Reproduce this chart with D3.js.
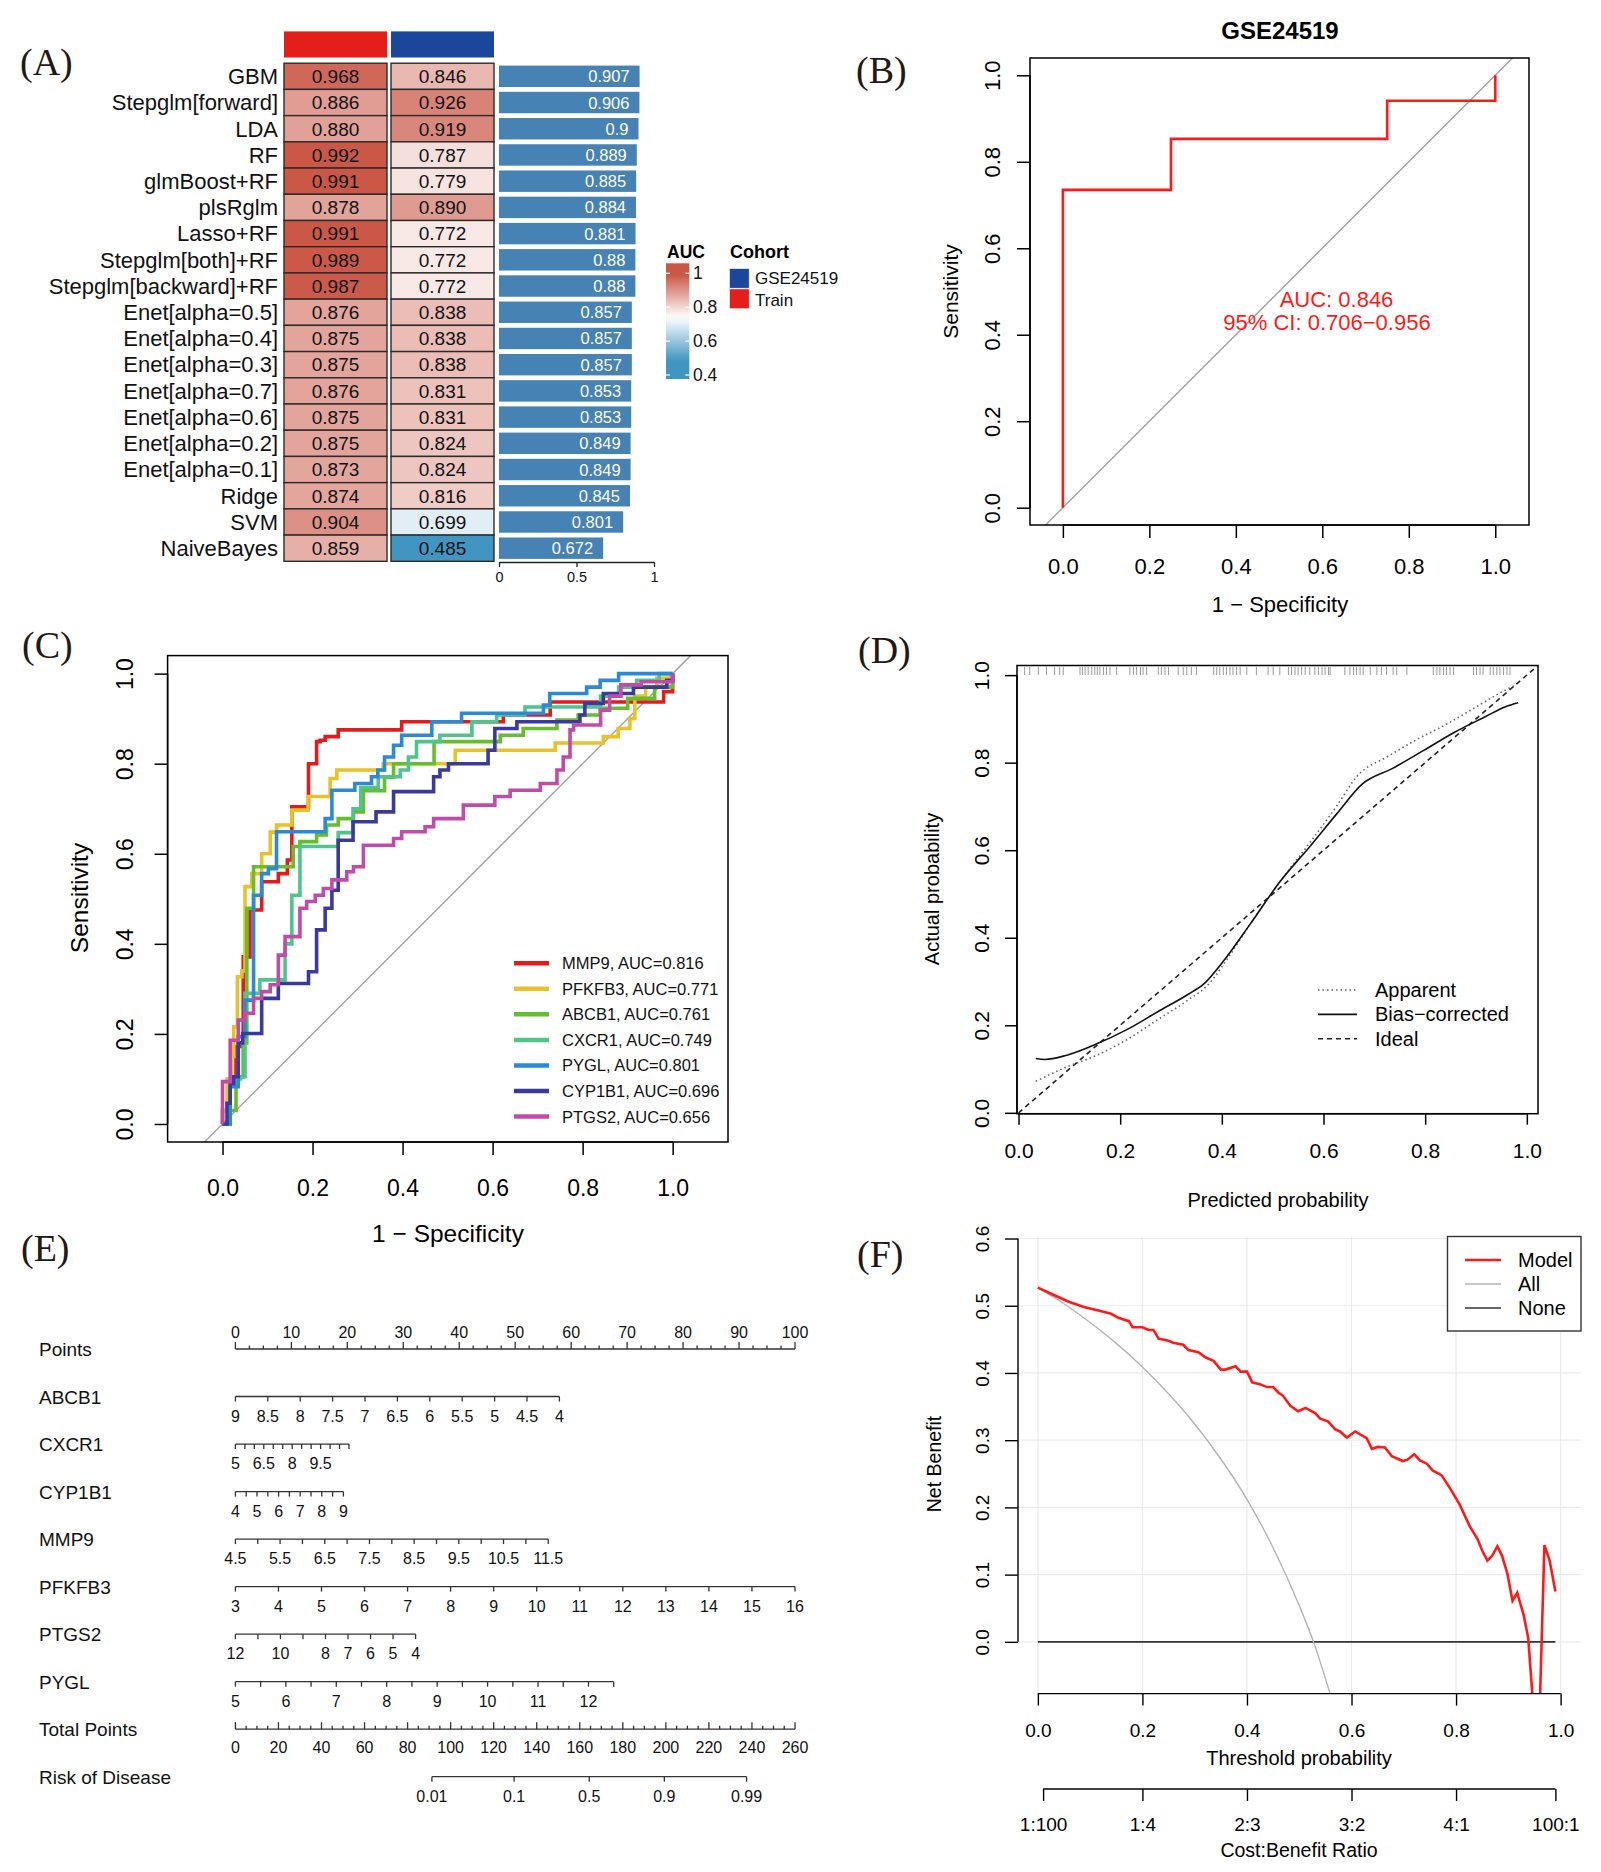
<!DOCTYPE html>
<html>
<head>
<meta charset="utf-8">
<script src="https://cdn.jsdelivr.net/npm/d3@7"></script>
<style>
  body { margin: 0; background: #fff; }
  text { font-family: "Liberation Sans", Arial, sans-serif; }
</style>
</head>
<body>
<div id="fig"></div>
<script>
// ---------------- data ----------------
var methods = ["GBM","Stepglm[forward]","LDA","RF","glmBoost+RF","plsRglm","Lasso+RF",
  "Stepglm[both]+RF","Stepglm[backward]+RF","Enet[alpha=0.5]","Enet[alpha=0.4]","Enet[alpha=0.3]",
  "Enet[alpha=0.7]","Enet[alpha=0.6]","Enet[alpha=0.2]","Enet[alpha=0.1]","Ridge","SVM","NaiveBayes"];
var cohorts = ["Train", "GSE24519"];
var aucTrain = [0.968,0.886,0.880,0.992,0.991,0.878,0.991,0.989,0.987,0.876,0.875,0.875,0.876,0.875,0.875,0.873,0.874,0.904,0.859];
var aucGSE   = [0.846,0.926,0.919,0.787,0.779,0.890,0.772,0.772,0.772,0.838,0.838,0.838,0.831,0.831,0.824,0.824,0.816,0.699,0.485];
var aucMean  = [0.907,0.906,0.9,0.889,0.885,0.884,0.881,0.88,0.88,0.857,0.857,0.857,0.853,0.853,0.849,0.849,0.845,0.801,0.672];
var aucLegendTicks = [1, 0.8, 0.6, 0.4];
var barTicks = [0, 0.5, 1];

var rocTicks = [0, 0.2, 0.4, 0.6, 0.8, 1];
var rocB = [[0,0],[0,0.735],[0.25,0.735],[0.25,0.853],[0.75,0.853],[0.75,0.941],[1,0.941],[1,1]];

var genes = ["MMP9","PFKFB3","ABCB1","CXCR1","PYGL","CYP1B1","PTGS2"];
var geneAUC = ["0.816","0.771","0.761","0.749","0.801","0.696","0.656"];
var rocMMP9 = [[0,0],[0,0.03],[0.017,0.03],[0.017,0.1],[0.03,0.1],[0.03,0.172],[0.046,0.172],[0.046,0.371],
  [0.061,0.371],[0.061,0.475],[0.087,0.475],[0.087,0.538],[0.124,0.538],[0.124,0.556],[0.144,0.556],[0.144,0.586],
  [0.154,0.586],[0.154,0.704],[0.191,0.704],[0.191,0.80],[0.209,0.80],[0.209,0.849],[0.217,0.849],[0.217,0.852],
  [0.228,0.852],[0.228,0.86],[0.257,0.86],[0.257,0.875],[0.398,0.875],[0.398,0.893],[0.624,0.893],[0.624,0.908],
  [0.728,0.908],[0.728,0.937],[0.98,0.937],[0.98,0.96],[1,0.96],[1,1]];
var rocPFKFB3 = [[0,0],[0,0.03],[0.01,0.03],[0.01,0.1],[0.02,0.1],[0.02,0.15],[0.025,0.15],[0.025,0.216],
  [0.033,0.216],[0.033,0.327],[0.043,0.327],[0.043,0.34],[0.05,0.34],[0.05,0.527],[0.065,0.527],[0.065,0.556],
  [0.087,0.556],[0.087,0.60],[0.106,0.60],[0.106,0.648],[0.12,0.648],[0.12,0.664],[0.154,0.664],[0.154,0.697],
  [0.19,0.697],[0.19,0.727],[0.239,0.727],[0.239,0.767],[0.254,0.767],[0.254,0.786],[0.357,0.786],[0.357,0.80],
  [0.517,0.80],[0.517,0.83],[0.739,0.83],[0.739,0.846],[0.846,0.846],[0.846,0.86],[0.879,0.86],[0.879,0.878],
  [0.905,0.878],[0.905,0.9],[0.916,0.9],[0.916,0.95],[0.94,0.95],[0.94,0.97],[0.965,0.97],[0.965,0.99],[1,0.99],[1,1]];
var rocABCB1 = [[0,0],[0.017,0],[0.017,0.03],[0.03,0.03],[0.03,0.105],[0.046,0.105],[0.046,0.18],[0.054,0.18],
  [0.054,0.479],[0.069,0.479],[0.069,0.571],[0.157,0.571],[0.157,0.616],[0.172,0.616],[0.172,0.627],[0.209,0.627],
  [0.209,0.642],[0.231,0.642],[0.231,0.664],[0.257,0.664],[0.257,0.678],[0.291,0.678],[0.291,0.693],[0.313,0.693],
  [0.313,0.74],[0.36,0.74],[0.36,0.77],[0.38,0.77],[0.38,0.80],[0.47,0.80],[0.47,0.849],[0.617,0.849],[0.617,0.863],
  [0.668,0.863],[0.668,0.878],[0.743,0.878],[0.743,0.897],[0.79,0.897],[0.79,0.908],[0.839,0.908],[0.839,0.923],
  [0.9,0.923],[0.9,0.945],[0.96,0.945],[0.96,0.97],[1,0.97],[1,1]];
var rocCXCR1 = [[0,0],[0.017,0],[0.017,0.1],[0.04,0.1],[0.04,0.105],[0.05,0.105],[0.05,0.29],[0.083,0.29],
  [0.083,0.32],[0.139,0.32],[0.139,0.40],[0.154,0.40],[0.154,0.508],[0.172,0.508],[0.172,0.616],[0.257,0.616],
  [0.257,0.647],[0.29,0.647],[0.29,0.70],[0.307,0.70],[0.307,0.747],[0.346,0.747],[0.346,0.771],[0.395,0.771],
  [0.395,0.786],[0.413,0.786],[0.413,0.815],[0.431,0.815],[0.431,0.849],[0.483,0.849],[0.483,0.863],[0.554,0.863],
  [0.554,0.893],[0.609,0.893],[0.609,0.908],[0.672,0.908],[0.672,0.926],[0.84,0.926],[0.84,0.95],[0.88,0.95],
  [0.88,0.97],[0.92,0.97],[0.92,0.985],[0.97,0.985],[0.97,1],[1,1]];
var rocPYGL = [[0,0],[0.017,0],[0.017,0.083],[0.035,0.083],[0.035,0.194],[0.05,0.194],[0.05,0.275],[0.069,0.275],
  [0.069,0.508],[0.087,0.508],[0.087,0.556],[0.102,0.556],[0.102,0.567],[0.12,0.567],[0.12,0.649],[0.228,0.649],
  [0.228,0.678],[0.243,0.678],[0.243,0.741],[0.294,0.741],[0.294,0.756],[0.331,0.756],[0.331,0.771],[0.345,0.771],
  [0.345,0.786],[0.36,0.786],[0.36,0.815],[0.38,0.815],[0.38,0.841],[0.398,0.841],[0.398,0.863],[0.465,0.863],
  [0.465,0.893],[0.531,0.893],[0.531,0.912],[0.713,0.912],[0.713,0.93],[0.727,0.93],[0.727,0.956],[0.809,0.956],
  [0.809,0.97],[0.839,0.97],[0.839,0.985],[0.88,0.985],[0.88,1],[1,1]];
var rocCYP1B1 = [[0,0],[0.01,0],[0.01,0.046],[0.017,0.046],[0.017,0.09],[0.025,0.09],[0.025,0.105],[0.035,0.105],
  [0.035,0.18],[0.045,0.18],[0.045,0.201],[0.087,0.201],[0.087,0.279],[0.124,0.279],[0.124,0.312],[0.191,0.312],
  [0.191,0.338],[0.209,0.338],[0.209,0.431],[0.228,0.431],[0.228,0.479],[0.243,0.479],[0.243,0.519],[0.257,0.519],
  [0.257,0.63],[0.29,0.63],[0.29,0.671],[0.341,0.671],[0.341,0.693],[0.38,0.693],[0.38,0.738],[0.469,0.738],
  [0.469,0.771],[0.483,0.771],[0.483,0.786],[0.502,0.786],[0.502,0.8],[0.59,0.8],[0.59,0.83],[0.605,0.83],
  [0.605,0.878],[0.654,0.878],[0.654,0.893],[0.794,0.893],[0.794,0.908],[0.805,0.908],[0.805,0.934],[0.846,0.934],
  [0.846,0.956],[0.913,0.956],[0.913,0.97],[0.987,0.97],[0.987,0.985],[1,0.985],[1,1]];
var rocPTGS2 = [[0,0],[0,0.094],[0.017,0.094],[0.017,0.186],[0.035,0.186],[0.035,0.231],[0.05,0.231],[0.05,0.246],
  [0.069,0.246],[0.069,0.279],[0.087,0.279],[0.087,0.294],[0.106,0.294],[0.106,0.309],[0.124,0.309],[0.124,0.375],
  [0.139,0.375],[0.139,0.416],[0.172,0.416],[0.172,0.479],[0.187,0.479],[0.187,0.494],[0.206,0.494],[0.206,0.508],
  [0.224,0.508],[0.224,0.523],[0.243,0.523],[0.243,0.542],[0.276,0.542],[0.276,0.56],[0.291,0.56],[0.291,0.571],
  [0.313,0.571],[0.313,0.619],[0.38,0.619],[0.38,0.634],[0.398,0.634],[0.398,0.649],[0.45,0.649],[0.45,0.66],
  [0.469,0.66],[0.469,0.678],[0.535,0.678],[0.535,0.708],[0.605,0.708],[0.605,0.727],[0.639,0.727],[0.639,0.741],
  [0.706,0.741],[0.706,0.756],[0.743,0.756],[0.743,0.786],[0.757,0.786],[0.757,0.815],[0.772,0.815],[0.772,0.875],
  [0.78,0.875],[0.78,0.886],[0.84,0.886],[0.84,0.919],[0.86,0.919],[0.86,0.95],[0.885,0.95],[0.885,0.975],
  [0.93,0.975],[0.93,0.982],[1,0.982],[1,1]];
var rocGenes = [rocMMP9, rocPFKFB3, rocABCB1, rocCXCR1, rocPYGL, rocCYP1B1, rocPTGS2];

var calTicks = [0, 0.2, 0.4, 0.6, 0.8, 1];
var calApparent = [[0.034,0.072],[0.093,0.104],[0.153,0.131],[0.213,0.167],[0.274,0.213],[0.334,0.258],
  [0.374,0.294],[0.414,0.357],[0.455,0.43],[0.515,0.529],[0.575,0.62],[0.626,0.701],[0.666,0.769],[0.726,0.814],
  [0.787,0.855],[0.847,0.891],[0.907,0.932],[0.953,0.963],[0.978,0.977]];
var calBias = [[0.034,0.124],[0.052,0.122],[0.093,0.131],[0.153,0.157],[0.213,0.19],[0.274,0.231],[0.334,0.271],
  [0.364,0.294],[0.404,0.348],[0.455,0.43],[0.515,0.529],[0.575,0.611],[0.626,0.683],[0.676,0.751],[0.736,0.787],
  [0.797,0.828],[0.857,0.869],[0.918,0.905],[0.958,0.928],[0.983,0.937]];
var calIdeal = [[0,0],[1.022,1.022]];
var calRug = [0.012,0.022,0.039,0.055,0.071,0.081,0.088,0.121,0.126,0.131,0.137,0.144,0.150,0.155,0.160,0.167,
  0.173,0.180,0.193,0.219,0.226,0.232,0.240,0.245,0.252,0.275,0.281,0.288,0.295,0.314,0.324,0.331,0.340,0.350,
  0.384,0.390,0.396,0.403,0.409,0.416,0.422,0.429,0.436,0.449,0.468,0.491,0.501,0.514,0.531,0.537,0.544,0.550,
  0.557,0.564,0.573,0.583,0.590,0.597,0.603,0.610,0.613,0.642,0.652,0.659,0.665,0.672,0.678,0.692,0.705,0.714,
  0.724,0.737,0.744,0.764,0.816,0.823,0.829,0.836,0.842,0.849,0.856,0.895,0.901,0.908,0.914,0.928,0.934,0.941,
  0.947,0.954,0.961,0.967];

var nomoVars   = ["ABCB1","CXCR1","CYP1B1","MMP9","PFKFB3","PTGS2","PYGL"];
var nomoFrom   = [9, 5, 4, 4.5, 3, 12, 5];          // value at 0 points
var nomoTo     = [4, 11, 9, 11.5, 16, 4, 12.5];     // value at the end of the line
var nomoToPts  = [57.9, 20.3, 19.3, 55.9, 100, 32.2, 67.6];
var nomoStep   = [0.5, 0.5, 0.5, 0.5, 1, 1, 0.5];
var nomoLabels = [
  [9,8.5,8,7.5,7,6.5,6,5.5,5,4.5,4],
  [5,6.5,8,9.5],
  [4,5,6,7,8,9],
  [4.5,5.5,6.5,7.5,8.5,9.5,10.5,11.5],
  [3,4,5,6,7,8,9,10,11,12,13,14,15,16],
  [12,10,8,7,6,5,4],
  [5,6,7,8,9,10,11,12]];
var pointsLabels = [0,10,20,30,40,50,60,70,80,90,100];
var totalLabels = [0,20,40,60,80,100,120,140,160,180,200,220,240,260];
var riskLabels = ["0.01","0.1","0.5","0.9","0.99"];
var riskPts = [91.3, 129.5, 164.4, 199.3, 237.5];

var dcaXTicks = [0, 0.2, 0.4, 0.6, 0.8, 1];
var dcaYTicks = [0, 0.1, 0.2, 0.3, 0.4, 0.5, 0.6];
var dcaModel = [[0,0.527],[0.0305,0.516],[0.059,0.506],[0.088,0.498],[0.116,0.493],[0.14,0.488],[0.154,0.482],
  [0.174,0.477],[0.181,0.468],[0.2,0.468],[0.212,0.464],[0.221,0.464],[0.231,0.451],[0.25,0.448],[0.259,0.445],
  [0.278,0.442],[0.288,0.434],[0.307,0.431],[0.321,0.423],[0.336,0.418],[0.35,0.405],[0.359,0.405],[0.378,0.41],
  [0.388,0.402],[0.4,0.402],[0.41,0.386],[0.426,0.383],[0.438,0.379],[0.45,0.379],[0.46,0.371],[0.469,0.366],
  [0.483,0.351],[0.498,0.343],[0.512,0.348],[0.531,0.34],[0.54,0.332],[0.555,0.328],[0.569,0.316],[0.578,0.313],
  [0.591,0.304],[0.607,0.313],[0.629,0.303],[0.639,0.287],[0.65,0.29],[0.664,0.289],[0.677,0.276],[0.698,0.269],
  [0.707,0.271],[0.72,0.279],[0.731,0.27],[0.744,0.265],[0.755,0.255],[0.772,0.248],[0.788,0.229],[0.807,0.204],
  [0.826,0.172],[0.841,0.153],[0.851,0.134],[0.86,0.121],[0.869,0.128],[0.879,0.142],[0.888,0.128],[0.898,0.102],
  [0.908,0.061],[0.917,0.073],[0.929,0.041],[0.938,0.006],[0.948,-0.1],[0.96,-0.1],[0.969,0.144],[0.979,0.121],
  [0.99,0.075]];
var dcaAll = [[0,0.527],[0.05,0.503],[0.1,0.475],[0.15,0.444],[0.2,0.409],[0.25,0.369],[0.3,0.324],[0.35,0.272],
  [0.4,0.212],[0.45,0.14],[0.5,0.054],[0.53,-0.006],[0.56,-0.08]];
var dcaNone = [[0,0],[0.99,0]];
var cbThr = [0.01, 0.2, 0.4, 0.6, 0.8, 0.99];
var cbLabels = ["1:100","1:4","2:3","3:2","4:1","100:1"];

// ---------------- page ----------------
var W = 1601, H = 1872;
var svg = d3.select("#fig").append("svg").attr("width", W).attr("height", H);
svg.append("rect").attr("width", W).attr("height", H).attr("fill", "#fff");
var defs = svg.append("defs");

function panelLabel(txt, x, y) {
  svg.append("text").attr("x", x).attr("y", y)
    .style("font-family", "'Liberation Serif', 'Times New Roman', serif")
    .attr("font-size", 38).attr("fill", "#231815").text(txt);
}
function vtext(g, txt, x, y, size) {
  return g.append("text").attr("transform", "translate(" + x + "," + y + ") rotate(-90)")
    .attr("text-anchor", "middle").attr("font-size", size).attr("fill", "#000").text(txt);
}
function htext(g, txt, x, y, size, anchor) {
  return g.append("text").attr("x", x).attr("y", y).attr("text-anchor", anchor || "middle")
    .attr("font-size", size).attr("fill", "#000").text(txt);
}
// R style axes: line only from first to last tick
function bottomAxis(g, scale, y, ticks, len, fmt, size, baseOff, sw) {
  var ax = g.append("g").attr("transform", "translate(0," + y + ")")
    .call(d3.axisBottom(scale).tickValues(ticks).tickSize(len).tickFormat(fmt));
  ax.attr("font-family", null).attr("font-size", null);
  ax.select(".domain").remove();
  ax.selectAll(".tick line").attr("stroke", "#000").attr("stroke-width", sw);
  ax.selectAll(".tick text").attr("y", baseOff).attr("dy", null).attr("font-size", size).attr("fill", "#000");
  ax.append("line").attr("x1", scale(ticks[0])).attr("x2", scale(ticks[ticks.length - 1]))
    .attr("stroke", "#000").attr("stroke-width", sw);
  return ax;
}
function leftAxis(g, scale, x, ticks, len, fmt, size, baseOff, sw) {
  var ax = g.append("g").attr("transform", "translate(" + x + ",0)")
    .call(d3.axisLeft(scale).tickValues(ticks).tickSize(len).tickFormat(fmt));
  ax.attr("font-family", null).attr("font-size", null);
  ax.select(".domain").remove();
  ax.selectAll(".tick line").attr("stroke", "#000").attr("stroke-width", sw);
  ax.selectAll(".tick text").attr("transform", "rotate(-90)").attr("x", 0).attr("y", -baseOff)
    .attr("dy", null).attr("text-anchor", "middle").attr("font-size", size).attr("fill", "#000");
  ax.append("line").attr("y1", scale(ticks[0])).attr("y2", scale(ticks[ticks.length - 1]))
    .attr("stroke", "#000").attr("stroke-width", sw);
  return ax;
}
function clipRect(id, x, y, w, h) {
  defs.append("clipPath").attr("id", id).append("rect").attr("x", x).attr("y", y).attr("width", w).attr("height", h);
  return "url(#" + id + ")";
}
var f1 = d3.format(".1f");

// ================= (A) heatmap =================
panelLabel("(A)", 20, 75);
var gA = svg.append("g");
var yRow = d3.scaleBand().domain(methods).range([63.2, 561.3]);
var xCol = d3.scaleBand().domain(cohorts).range([284, 494]).paddingInner(0.0374);
var heatCol = d3.scaleLinear().domain([0.485, 0.7385, 0.992]).range(["#4195C1", "#FFFFFF", "#CB5746"]).clamp(true);
var cohortColor = d3.scaleOrdinal().domain(cohorts).range(["#E41F1B", "#1A479C"]);
var xBar = d3.scaleLinear().domain([0, 1]).range([499, 654]);

gA.selectAll("rect.head").data(cohorts).enter().append("rect")
  .attr("x", function(d) { return xCol(d); }).attr("y", 31.4)
  .attr("width", xCol.bandwidth()).attr("height", 26.1)
  .attr("fill", function(d) { return cohortColor(d); });

var cells = [];
methods.forEach(function(m, i) {
  cells.push({ m: m, c: "Train", v: aucTrain[i] });
  cells.push({ m: m, c: "GSE24519", v: aucGSE[i] });
});
gA.selectAll("rect.cell").data(cells).enter().append("rect")
  .attr("x", function(d) { return xCol(d.c); })
  .attr("y", function(d) { return yRow(d.m); })
  .attr("width", xCol.bandwidth()).attr("height", yRow.bandwidth())
  .attr("fill", function(d) { return heatCol(d.v); })
  .attr("stroke", "#2b2b2b").attr("stroke-width", 1.4);
gA.selectAll("text.cell").data(cells).enter().append("text")
  .attr("x", function(d) { return xCol(d.c) + xCol.bandwidth() / 2; })
  .attr("y", function(d) { return yRow(d.m) + yRow.bandwidth() / 2 + 6.8; })
  .attr("text-anchor", "middle").attr("font-size", 19).attr("fill", "#111")
  .text(function(d) { return d.v.toFixed(3); });
gA.selectAll("text.row").data(methods).enter().append("text")
  .attr("x", 278).attr("y", function(d) { return yRow(d) + yRow.bandwidth() / 2 + 7.8; })
  .attr("text-anchor", "end").attr("font-size", 22).attr("fill", "#111")
  .text(function(d) { return d; });

gA.selectAll("rect.bar").data(aucMean).enter().append("rect")
  .attr("x", xBar(0))
  .attr("y", function(d, i) { return yRow(methods[i]) + 2.4; })
  .attr("width", function(d) { return xBar(d) - xBar(0); })
  .attr("height", yRow.bandwidth() - 4.8)
  .attr("fill", "#4682B4");
gA.selectAll("text.bar").data(aucMean).enter().append("text")
  .attr("x", function(d) { return xBar(d) - 10; })
  .attr("y", function(d, i) { return yRow(methods[i]) + yRow.bandwidth() / 2 + 6; })
  .attr("text-anchor", "end").attr("font-size", 16.5).attr("fill", "#fff")
  .text(function(d) { return String(d); });
var axA = gA.append("g").attr("transform", "translate(0,562)")
  .call(d3.axisBottom(xBar).tickValues(barTicks).tickSize(5).tickSizeOuter(0).tickFormat(d3.format("~g")));
axA.attr("font-family", null).attr("font-size", null);
axA.select(".domain").attr("stroke", "#222").attr("stroke-width", 1.3);
axA.selectAll(".tick line").attr("stroke", "#222").attr("stroke-width", 1.3);
axA.selectAll(".tick text").attr("y", 20).attr("dy", null).attr("font-size", 14.5).attr("fill", "#111");

// AUC legend
var legY = d3.scaleLinear().domain([1, 0.4]).range([273.3, 375]);
var grad = defs.append("linearGradient").attr("id", "aucGrad").attr("x1", 0).attr("y1", 0).attr("x2", 0).attr("y2", 1);
d3.range(0, 1.0001, 0.05).forEach(function(t) {
  var v = legY.invert(263.3 + t * (379 - 263.3));
  grad.append("stop").attr("offset", t).attr("stop-color", heatCol(v));
});
gA.append("rect").attr("x", 666).attr("y", 263.3).attr("width", 23.3).attr("height", 115.7).attr("fill", "url(#aucGrad)");
aucLegendTicks.forEach(function(v) {
  gA.append("line").attr("x1", 666).attr("x2", 670).attr("y1", legY(v)).attr("y2", legY(v)).attr("stroke", "#fff").attr("stroke-width", 1.2);
  gA.append("line").attr("x1", 685.3).attr("x2", 689.3).attr("y1", legY(v)).attr("y2", legY(v)).attr("stroke", "#fff").attr("stroke-width", 1.2);
  htext(gA, d3.format("~g")(v), 693, legY(v) + 6, 17.5, "start").attr("fill", "#111");
});
htext(gA, "AUC", 686, 258, 17.5).attr("font-weight", "bold");
htext(gA, "Cohort", 730, 258, 18, "start").attr("font-weight", "bold");
var cohortKeys = ["GSE24519", "Train"];
cohortKeys.forEach(function(c, i) {
  gA.append("rect").attr("x", 729.3).attr("y", 268.3 + i * 20.5).attr("width", 20).attr("height", 20)
    .attr("fill", cohortColor(c)).attr("stroke", "#fff").attr("stroke-width", 0.8);
  htext(gA, c, 755, 284.3 + i * 21.5, 17, "start").attr("fill", "#111");
});

// ================= (B) ROC GSE24519 =================
panelLabel("(B)", 856, 83);
var gB = svg.append("g");
var xB = d3.scaleLinear().domain([-0.076, 1.078]).range([1030, 1529]);
var yB = d3.scaleLinear().domain([-0.04, 1.04]).range([525, 58]);
var clipB = clipRect("clipB", 1030, 58, 499, 467);
gB.append("line").attr("clip-path", clipB)
  .attr("x1", xB(-0.04)).attr("y1", yB(-0.04)).attr("x2", xB(1.04)).attr("y2", yB(1.04))
  .attr("stroke", "#A8A8A8").attr("stroke-width", 1.5);
gB.append("path").datum(rocB)
  .attr("d", d3.line().x(function(d) { return xB(d[0]); }).y(function(d) { return yB(d[1]); }))
  .attr("fill", "none").attr("stroke", "#FF1A1A").attr("stroke-width", 2.6);
gB.append("rect").attr("x", 1030).attr("y", 58).attr("width", 499).attr("height", 467)
  .attr("fill", "none").attr("stroke", "#000").attr("stroke-width", 1.5);
bottomAxis(gB, xB, 525, rocTicks, 13, f1, 22, 49, 1.5);
leftAxis(gB, yB, 1030, rocTicks, 13, f1, 22, 30.4, 1.5);
htext(gB, "GSE24519", 1280, 39, 24).attr("font-weight", "bold");
vtext(gB, "Sensitivity", 958.4, 291.5, 21);
htext(gB, "1 \u2212 Specificity", 1280, 612, 22);
htext(gB, "AUC: 0.846", 1336.5, 307, 22).attr("fill", "#FF1A1A");
htext(gB, "95% CI: 0.706\u22120.956", 1327, 330, 22).attr("fill", "#FF1A1A");

// ================= (C) ROC per gene =================
panelLabel("(C)", 22, 658);
var gC = svg.append("g");
var xC = d3.scaleLinear().domain([-0.122, 1.123]).range([167.6, 728]);
var yC = d3.scaleLinear().domain([-0.04, 1.04]).range([1142, 655.6]);
var geneColor = d3.scaleOrdinal().domain(genes)
  .range(["#E41A1C", "#E9C227", "#66BD2E", "#4FC48C", "#2B8AD8", "#3A3A9E", "#C24BAA"]);
var clipC = clipRect("clipC", 167.6, 655.6, 560.4, 486.4);
gC.append("line").attr("clip-path", clipC)
  .attr("x1", xC(-0.04)).attr("y1", yC(-0.04)).attr("x2", xC(1.04)).attr("y2", yC(1.04))
  .attr("stroke", "#A8A8A8").attr("stroke-width", 1.5);
var lineC = d3.line().x(function(d) { return xC(d[0]); }).y(function(d) { return yC(d[1]); });
gC.selectAll("path.roc").data(rocGenes).enter().append("path")
  .attr("d", lineC).attr("fill", "none")
  .attr("stroke", function(d, i) { return geneColor(genes[i]); })
  .attr("stroke-width", 3.6).attr("stroke-linejoin", "miter");
gC.append("rect").attr("x", 167.6).attr("y", 655.6).attr("width", 560.4).attr("height", 486.4)
  .attr("fill", "none").attr("stroke", "#000").attr("stroke-width", 1.5);
bottomAxis(gC, xC, 1142, rocTicks, 13, f1, 23, 54, 1.5);
leftAxis(gC, yC, 167.6, rocTicks, 13, f1, 23, 34.9, 1.5);
vtext(gC, "Sensitivity", 88, 898, 24.5);
htext(gC, "1 \u2212 Specificity", 448, 1242, 24.5);
var legCY = d3.scalePoint().domain(genes).range([963.3, 1116.5]);
genes.forEach(function(g, i) {
  gC.append("line").attr("x1", 514).attr("x2", 549).attr("y1", legCY(g)).attr("y2", legCY(g))
    .attr("stroke", geneColor(g)).attr("stroke-width", 4.5);
  htext(gC, g + ", AUC=" + geneAUC[i], 562, legCY(g) + 6, 16.5, "start").attr("fill", "#111");
});

// ================= (D) calibration =================
panelLabel("(D)", 858, 663);
var gD = svg.append("g");
var xD = d3.scaleLinear().domain([-0.003, 1.022]).range([1017, 1538]);
var yD = d3.scaleLinear().domain([-0.002, 1.022]).range([1113.7, 665.5]);
var lineD = d3.line().x(function(d) { return xD(d[0]); }).y(function(d) { return yD(d[1]); });
gD.selectAll("line.rug").data(calRug).enter().append("line")
  .attr("x1", function(d) { return xD(d); }).attr("x2", function(d) { return xD(d); })
  .attr("y1", 667).attr("y2", 675).attr("stroke", "#9a9a9a").attr("stroke-width", 1);
gD.append("path").datum(calIdeal).attr("d", lineD).attr("fill", "none")
  .attr("stroke", "#222").attr("stroke-width", 1.6).attr("stroke-dasharray", "5,4");
gD.append("path").datum(calApparent).attr("d", lineD.curve(d3.curveMonotoneX)).attr("fill", "none")
  .attr("stroke", "#666").attr("stroke-width", 1.6).attr("stroke-dasharray", "1.5,3");
gD.append("path").datum(calBias).attr("d", lineD.curve(d3.curveMonotoneX)).attr("fill", "none")
  .attr("stroke", "#111").attr("stroke-width", 1.6);
gD.append("rect").attr("x", 1017).attr("y", 665.5).attr("width", 521).attr("height", 448.2)
  .attr("fill", "none").attr("stroke", "#000").attr("stroke-width", 1.5);
bottomAxis(gD, xD, 1113.7, calTicks, 11, f1, 21, 44.3, 1.5);
leftAxis(gD, yD, 1017, calTicks, 12, f1, 21, 28.5, 1.5);
htext(gD, "Predicted probability", 1278, 1207, 20);
vtext(gD, "Actual probability", 939, 889, 20);
var calKeys = ["Apparent", "Bias\u2212corrected", "Ideal"];
var calDash = ["1.5,3", null, "5,4"];
var calCol = ["#666", "#111", "#222"];
calKeys.forEach(function(k, i) {
  var yy = 990 + i * 24.4;
  gD.append("line").attr("x1", 1318).attr("x2", 1357).attr("y1", yy).attr("y2", yy)
    .attr("stroke", calCol[i]).attr("stroke-width", 1.6).attr("stroke-dasharray", calDash[i]);
  htext(gD, k, 1375, yy + 7, 20, "start");
});

// ================= (E) nomogram =================
panelLabel("(E)", 21, 1261);
var gE = svg.append("g");
var rowNames = ["Points"].concat(nomoVars).concat(["Total Points", "Risk of Disease"]);
var yNomo = d3.scalePoint().domain(rowNames).range([1349, 1776.7]);
var xPts = d3.scaleLinear().domain([0, 100]).range([235.4, 795]);
var xTot = d3.scaleLinear().domain([0, 260]).range([235.4, 795]);
var eStroke = "#333";
rowNames.forEach(function(r) {
  htext(gE, r, 39, yNomo(r) + 7, 19, "start").attr("fill", "#111");
});
// Points axis (labels above, ticks up)
(function() {
  var y = yNomo("Points");
  gE.append("line").attr("x1", xPts(0)).attr("x2", xPts(100)).attr("y1", y).attr("y2", y).attr("stroke", eStroke).attr("stroke-width", 1.3);
  gE.selectAll("line.pmin").data(d3.range(0, 100.01, 2.5)).enter().append("line")
    .attr("x1", function(d) { return xPts(d); }).attr("x2", function(d) { return xPts(d); })
    .attr("y1", y).attr("y2", function(d) { return d % 10 === 0 ? y - 7 : y - 3.5; })
    .attr("stroke", eStroke).attr("stroke-width", 1.3);
  gE.selectAll("text.pts").data(pointsLabels).enter().append("text")
    .attr("x", function(d) { return xPts(d); }).attr("y", y - 11).attr("text-anchor", "middle")
    .attr("font-size", 16).attr("fill", "#111").text(function(d) { return d; });
})();
// variable axes (labels below, ticks down)
nomoVars.forEach(function(v, i) {
  var y = yNomo(v);
  var toPts = d3.scaleLinear().domain([nomoFrom[i], nomoTo[i]]).range([0, nomoToPts[i]]);
  var dir = nomoTo[i] > nomoFrom[i] ? 1 : -1;
  var ticks = d3.range(nomoFrom[i], nomoTo[i] + dir * 1e-6, dir * nomoStep[i]);
  gE.append("line").attr("x1", xPts(0)).attr("x2", xPts(nomoToPts[i])).attr("y1", y).attr("y2", y)
    .attr("stroke", eStroke).attr("stroke-width", 1.3);
  gE.selectAll("line.t" + i).data(ticks).enter().append("line")
    .attr("x1", function(d) { return xPts(toPts(d)); }).attr("x2", function(d) { return xPts(toPts(d)); })
    .attr("y1", y).attr("y2", y + 5).attr("stroke", eStroke).attr("stroke-width", 1.3);
  gE.selectAll("text.l" + i).data(nomoLabels[i]).enter().append("text")
    .attr("x", function(d) { return xPts(toPts(d)); }).attr("y", y + 25).attr("text-anchor", "middle")
    .attr("font-size", 16).attr("fill", "#111").text(function(d) { return d; });
});
// Total points
(function() {
  var y = yNomo("Total Points");
  gE.append("line").attr("x1", xTot(0)).attr("x2", xTot(260)).attr("y1", y).attr("y2", y).attr("stroke", eStroke).attr("stroke-width", 1.3);
  gE.selectAll("line.tmin").data(d3.range(0, 260.01, 5)).enter().append("line")
    .attr("x1", function(d) { return xTot(d); }).attr("x2", function(d) { return xTot(d); })
    .attr("y1", y).attr("y2", function(d) { return d % 20 === 0 ? y - 7 : y - 3.5; })
    .attr("stroke", eStroke).attr("stroke-width", 1.3);
  gE.selectAll("text.tot").data(totalLabels).enter().append("text")
    .attr("x", function(d) { return xTot(d); }).attr("y", y + 24).attr("text-anchor", "middle")
    .attr("font-size", 16).attr("fill", "#111").text(function(d) { return d; });
})();
// Risk
(function() {
  var y = yNomo("Risk of Disease");
  gE.append("line").attr("x1", xTot(riskPts[0])).attr("x2", xTot(riskPts[riskPts.length - 1]))
    .attr("y1", y).attr("y2", y).attr("stroke", eStroke).attr("stroke-width", 1.3);
  gE.selectAll("line.risk").data(riskPts).enter().append("line")
    .attr("x1", function(d) { return xTot(d); }).attr("x2", function(d) { return xTot(d); })
    .attr("y1", y).attr("y2", y + 5).attr("stroke", eStroke).attr("stroke-width", 1.3);
  gE.selectAll("text.risk").data(riskLabels).enter().append("text")
    .attr("x", function(d, i) { return xTot(riskPts[i]); }).attr("y", y + 25).attr("text-anchor", "middle")
    .attr("font-size", 16).attr("fill", "#111").text(function(d) { return d; });
})();

// ================= (F) decision curve =================
panelLabel("(F)", 857, 1267);
var gF = svg.append("g");
var xF = d3.scaleLinear().domain([-0.038, 1.039]).range([1018, 1581]);
var yF = d3.scaleLinear().domain([-0.077, 0.603]).range([1693.6, 1236.5]);
gF.selectAll("line.gx").data(dcaXTicks).enter().append("line")
  .attr("x1", function(d) { return xF(d); }).attr("x2", function(d) { return xF(d); })
  .attr("y1", 1236.5).attr("y2", 1693.6).attr("stroke", "#EBEBEB").attr("stroke-width", 1.2);
gF.selectAll("line.gy").data(dcaYTicks).enter().append("line")
  .attr("x1", 1018).attr("x2", 1581)
  .attr("y1", function(d) { return yF(d); }).attr("y2", function(d) { return yF(d); })
  .attr("stroke", "#EBEBEB").attr("stroke-width", 1.2);
var clipF = clipRect("clipF", 1018, 1236.5, 563, 457.1);
var lineF = d3.line().x(function(d) { return xF(d[0]); }).y(function(d) { return yF(d[1]); });
gF.append("path").datum(dcaNone).attr("d", lineF).attr("fill", "none").attr("stroke", "#333").attr("stroke-width", 1.6);
gF.append("path").datum(dcaAll).attr("clip-path", clipF).attr("d", lineF.curve(d3.curveMonotoneX))
  .attr("fill", "none").attr("stroke", "#B4B4B4").attr("stroke-width", 1.4);
gF.append("path").datum(dcaModel).attr("clip-path", clipF).attr("d", lineF.curve(d3.curveLinear))
  .attr("fill", "none").attr("stroke", "#FF1A1A").attr("stroke-width", 2.6);
bottomAxis(gF, xF, 1693.6, dcaXTicks, 12, f1, 19, 43, 1.4);
leftAxis(gF, yF, 1018, dcaYTicks, 13, f1, 19, 29, 1.4);
htext(gF, "Threshold probability", 1299, 1765, 20);
vtext(gF, "Net Benefit", 941, 1464, 19.5);
bottomAxis(gF, xF, 1789, cbThr, 12, function(d, i) { return cbLabels[i]; }, 19, 42, 1.4);
htext(gF, "Cost:Benefit Ratio", 1299, 1857, 19.5);
// legend
gF.append("rect").attr("x", 1447.5).attr("y", 1236.5).attr("width", 133.5).attr("height", 94.5)
  .attr("fill", "#fff").attr("stroke", "#333").attr("stroke-width", 1.4);
var dcaKeys = ["Model", "All", "None"];
var dcaKeyCol = ["#FF1A1A", "#B4B4B4", "#333"];
var dcaKeyW = [2.6, 1.4, 1.6];
dcaKeys.forEach(function(k, i) {
  var yy = 1260 + i * 24;
  gF.append("line").attr("x1", 1465).attr("x2", 1501).attr("y1", yy).attr("y2", yy)
    .attr("stroke", dcaKeyCol[i]).attr("stroke-width", dcaKeyW[i]);
  htext(gF, k, 1518, yy + 7, 20, "start");
});
</script>
</body>
</html>
